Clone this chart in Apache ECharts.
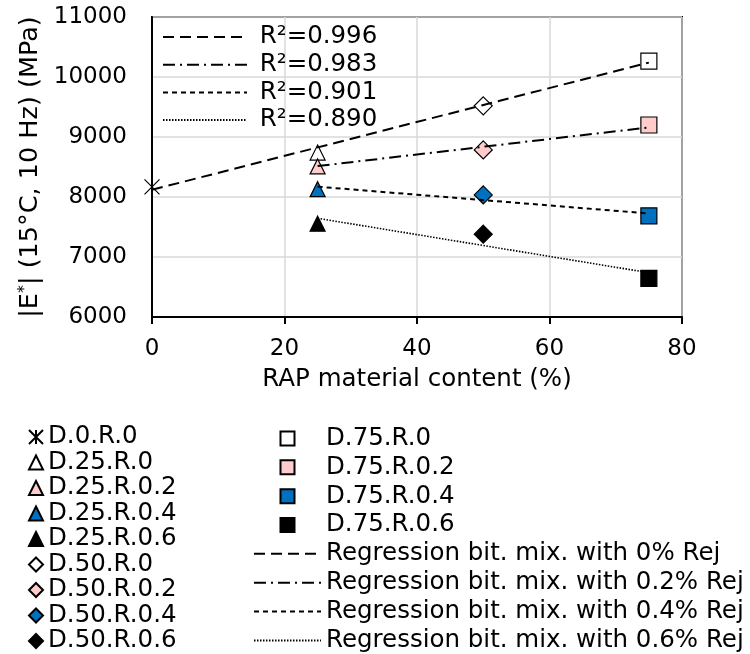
<!DOCTYPE html>
<html><head><meta charset="utf-8">
<script src="https://cdn.jsdelivr.net/npm/echarts@6/dist/echarts.min.js"></script>
<style>html,body{margin:0;padding:0;background:#fff}#c{width:750px;height:654px}</style>
</head><body><div id="c"></div>
<script>
// ---- data ----
const markerNames = ['D.0.R.0','D.25.R.0','D.25.R.0.2','D.25.R.0.4','D.25.R.0.6','D.50.R.0','D.50.R.0.2','D.50.R.0.4','D.50.R.0.6','D.75.R.0','D.75.R.0.2','D.75.R.0.4','D.75.R.0.6'];
const markerX = [0, 25, 25, 25, 25, 50, 50, 50, 50, 75, 75, 75, 75];
const markerY = [8170, 8740, 8510, 8130, 7555, 9520, 8785, 8035, 7380, 10265, 9200, 7685, 6645];

const regNames = ['Regression bit. mix. with 0% Rej','Regression bit. mix. with 0.2% Rej','Regression bit. mix. with 0.4% Rej','Regression bit. mix. with 0.6% Rej'];
const regR2Labels = ['R\u00B2=0.996','R\u00B2=0.983','R\u00B2=0.901','R\u00B2=0.890'];
const regStartX = [0, 25, 25, 25];
const regEndX = [75, 75, 75, 75];
const regStartY = [8120, 8515, 8172, 7645];
const regEndY = [10240, 9160, 7725, 6738];

const xTicks = [0, 20, 40, 60, 80];
const yTicks = [6000, 7000, 8000, 9000, 10000, 11000];

// ---- styles ----
const FONT = 'DejaVu Sans';
const ASTERISK = 'path://M0,0L10,10M10,0L0,10M5,0L5,10';
const SQUARE = 'path://M0,0H10V10H0Z';
const shapeByDose = {'0': ASTERISK, '25': 'triangle', '50': 'diamond', '75': 'rect'};
const sizeByDose = {'0': 15, '25': 15, '50': 18, '75': 16};
const fillByRej = {'0': '#FFFFFF', '0.2': '#FFCCCC', '0.4': '#0070C0', '0.6': '#000000'};
const dashes = [[11, 6], [12, 5, 2, 5], [5, 4], [1.5, 1.5]];
const widths = [2, 2, 2, 1.6];
const LEG_FS = 24.5;

function styleOf(name) {
  const m = name.match(/^D\.(\d+)\.R\.([\d.]+)$/);
  return {dose: m[1], symbol: shapeByDose[m[1]], size: sizeByDose[m[1]], fill: m[1] === '0' ? '#000' : fillByRej[m[2]]};
}

const series = [];
markerNames.forEach((n, i) => {
  const s = styleOf(n);
  series.push({
    type: 'scatter', name: n, z: 2,
    symbol: s.symbol, symbolSize: s.size,
    itemStyle: {color: s.fill, borderColor: '#000', borderWidth: 1.2, opacity: 1},
    data: [[markerX[i], markerY[i]]]
  });
});
const hiddenItem = {color: 'rgba(0,0,0,0)', borderWidth: 0, borderColor: 'rgba(0,0,0,0)'};
regNames.forEach((n, i) => {
  series.push({
    type: 'line', name: n, z: 5, symbol: 'none', silent: true,
    itemStyle: hiddenItem,
    lineStyle: {color: '#000', width: widths[i], type: dashes[i]},
    data: [[regStartX[i], regStartY[i]], [regEndX[i], regEndY[i]]]
  });
  // empty twin series only to feed the in-plot R² legend
  series.push({
    type: 'line', name: regR2Labels[i], symbol: 'none', silent: true,
    itemStyle: hiddenItem,
    lineStyle: {color: '#000', width: widths[i], type: dashes[i]},
    data: []
  });
});

const legendText = {fontFamily: FONT, fontSize: LEG_FS, color: '#000'};
const rightLegendData = markerNames.slice(9).map(n => ({name: n, icon: SQUARE})).concat(regNames.map(n => ({name: n})));

const chart = echarts.init(document.getElementById('c'), null, {renderer: 'canvas'});
chart.setOption({
  animation: false,
  backgroundColor: '#fff',
  grid: {left: 152, top: 17, width: 530, height: 300, show: true, borderColor: '#000', borderWidth: 2, containLabel: false},
  xAxis: {
    type: 'value', min: xTicks[0], max: xTicks[xTicks.length - 1], interval: 20,
    name: 'RAP material content (%)', nameLocation: 'middle', nameGap: 50,
    nameTextStyle: {fontFamily: FONT, fontSize: 24.5, color: '#000'},
    axisLine: {show: true, onZero: false, lineStyle: {color: '#000', width: 2}},
    axisTick: {show: true, length: 7, lineStyle: {color: '#000', width: 2}},
    axisLabel: {fontFamily: FONT, fontSize: 23, color: '#000', margin: 21},
    splitLine: {show: true, lineStyle: {color: '#D9D9D9', width: 1.5}}
  },
  yAxis: {
    type: 'value', min: yTicks[0], max: yTicks[yTicks.length - 1], interval: 1000,
    name: '|E{sup|*}| (15°C, 10 Hz) (MPa)', nameLocation: 'middle', nameGap: 109,
    nameTextStyle: {fontFamily: FONT, fontSize: 25.5, color: '#000',
      rich: {sup: {fontFamily: FONT, fontSize: 16, color: '#000', verticalAlign: 'top', padding: [0, 0, 8, 0]}}},
    axisLine: {show: true, onZero: false, lineStyle: {color: '#000', width: 2}},
    axisTick: {show: false},
    axisLabel: {fontFamily: FONT, fontSize: 23, color: '#000', margin: 25, formatter: v => String(v)},
    splitLine: {show: true, lineStyle: {color: '#D9D9D9', width: 1.5}}
  },
  legend: [
    {
      data: regR2Labels, orient: 'vertical', left: 162, top: 24.5, padding: 0,
      itemWidth: 84, itemHeight: 14, itemGap: 2.7, selectedMode: false,
      formatter: n => ' ' + n, textStyle: legendText
    },
    {
      data: markerNames.slice(0, 9), orient: 'vertical', left: 28, top: 424.5, padding: 0, height: 320,
      itemWidth: 14, itemHeight: 14, itemGap: 0.5, selectedMode: false,
      textStyle: legendText
    },
    {
      data: rightLegendData, orient: 'vertical', left: 253, top: 426, padding: 0, height: 320,
      itemWidth: 67, itemHeight: 14, itemGap: 3.84, selectedMode: false, symbolKeepAspect: true,
      textStyle: legendText
    }
  ],
  series: series
});
</script>
</body></html>
